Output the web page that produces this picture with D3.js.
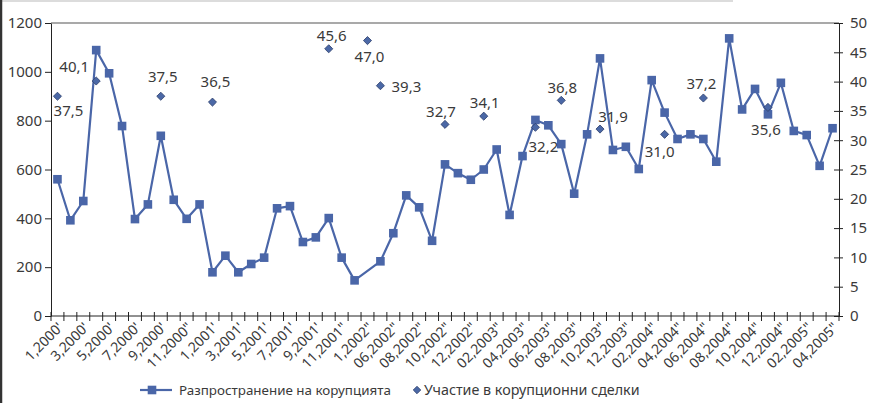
<!DOCTYPE html>
<html>
<head>
	<meta charset="utf-8">
	<script type="text/javascript" src="https://cdn.jsdelivr.net/npm/d3@7"></script>
	<title>Корупция</title>
	<style>
		body { margin: 0; background: #fff; }
		text { font-family: "Noto Sans", "Open Sans", sans-serif; fill: #3a3a3a; }
	</style>
</head>
<body>
<script type="text/javascript">

	/*------ data ------*/

	var categories = [
		"1,2000'", "2,2000'", "3,2000'", "4,2000'", "5,2000'", "6,2000'", "7,2000'", "8,2000'",
		"9,2000'", "10,2000'", "11,2000\"", "12,2000\"", "1,2001'", "2,2001'", "3,2001'", "4,2001'",
		"5,2001'", "6,2001'", "7,2001'", "8,2001'", "9,2001'", "10,2001'", "11,2001\"", "12,2001\"",
		"1,2002\"", "05,2002\"", "06,2002\"", "07,2002\"", "08,2002\"", "09,2002\"", "10,2002\"", "11,2002\"",
		"12,2002\"", "01,2003\"", "02,2003\"", "03,2003\"", "04,2003\"", "05,2003\"", "06,2003\"", "07,2003\"",
		"08,2003\"", "09,2003\"", "10,2003\"", "11,2003\"", "12,2003\"", "01,2004\"", "02,2004\"", "03,2004\"",
		"04,2004\"", "05,2004\"", "06,2004\"", "07,2004\"", "08,2004\"", "09,2004\"", "10,2004\"", "11,2004\"",
		"12,2004\"", "01,2005\"", "02,2005\"", "03,2005\"", "04,2005\""
	];

	// Разпространение на корупцията (left axis)
	var spread = [
		560, 392, 471, 1089, 994, 778, 397, 457, 738, 476,
		398, 457, 179, 247, 179, 213, 239, 441, 450, 303,
		322, 401, 239, 146, null, 224, 339, 494, 445, 308,
		621, 585, 558, 600, 682, 414, 655, 803, 781, 704,
		501, 744, 1055, 680, 693, 602, 966, 833, 725, 744,
		725, 632, 1137, 846, 930, 826, 955, 758, 741, 615,
		769
	];

	// Участие в корупционни сделки (right axis)
	var deals = [
		37.5, null, null, 40.1, null, null, null, null, 37.5, null,
		null, null, 36.5, null, null, null, null, null, null, null,
		null, 45.6, null, null, 47.0, 39.3, null, null, null, null,
		32.7, null, null, 34.1, null, null, null, 32.2, null, 36.8,
		null, null, 31.9, null, null, null, null, 31.0, null, null,
		37.2, null, null, null, null, 35.6, null, null, null, null,
		null
	];

	var leftTicks = [0, 200, 400, 600, 800, 1000, 1200];
	var rightTicks = [0, 5, 10, 15, 20, 25, 30, 35, 40, 45, 50];
	var seriesNames = ["Разпространение на корупцията", "Участие в корупционни сделки"];

	// where each value label sits relative to its diamond
	var labelPos = {
		0: [11, 14], 3: [-22, -14], 8: [2, -20], 12: [3, -20], 21: [3, -13],
		24: [2, 16], 25: [26, 1], 30: [-4, -13], 33: [1, -13], 37: [8, 19],
		39: [1, -13], 42: [13, -12], 47: [-5, 17], 50: [-2, -14], 55: [-2, 22]
	};

	/*------ layout ------*/

	var svgWidth = 870, svgHeight = 403;
	var plotLeft = 51, plotRight = 839, plotTop = 23, plotBottom = 316;
	var lineColor = '#4a66a8';

	var xScale, yLeft, yRight;

	var svg = d3.select('body')
		.append('svg')
		.attr('width', svgWidth)
		.attr('height', svgHeight);

	setScales();
	renderFrame();
	renderAxes();
	renderSeries();
	renderLegend();

	function setScales() {
		xScale = d3.scaleBand()
			.domain(d3.range(categories.length))
			.range([plotLeft, plotRight]);

		yLeft = d3.scaleLinear()
			.domain([0, 1200])
			.range([plotBottom, plotTop]);

		yRight = d3.scaleLinear()
			.domain([0, 50])
			.range([plotBottom, plotTop]);
	}

	function renderFrame() {
		// bits of the page border around the picture
		svg.append('line')
			.attr('x1', 0).attr('x2', 733).attr('y1', 1).attr('y2', 1)
			.attr('stroke', '#dcdcdc').attr('stroke-width', 2);
		svg.append('line')
			.attr('x1', 1).attr('x2', 1).attr('y1', 0).attr('y2', svgHeight)
			.attr('stroke', '#333').attr('stroke-width', 2.5);

		// top edge of the plot area
		svg.append('line')
			.attr('x1', plotLeft).attr('x2', plotRight)
			.attr('y1', plotTop).attr('y2', plotTop)
			.attr('stroke', '#8c8c8c').attr('stroke-width', 1.3);
	}

	function renderAxes() {
		var left = svg.append('g')
			.attr('transform', 'translate(' + plotLeft + ',0)')
			.call(d3.axisLeft(yLeft).tickValues(leftTicks).tickFormat(d3.format('d'))
				.tickSize(6).tickPadding(3).tickSizeOuter(0));

		var right = svg.append('g')
			.attr('transform', 'translate(' + plotRight + ',0)')
			.call(d3.axisRight(yRight).tickValues(rightTicks).tickFormat(d3.format('d'))
				.tickSize(4).tickPadding(7).tickSizeOuter(0));
		right.selectAll('.tick line').attr('x1', -5);

		[left, right].forEach(function (g) {
			g.select('.domain').attr('stroke', '#222');
			g.selectAll('.tick line').attr('stroke', '#222');
			g.selectAll('.tick text')
				.attr('font-size', 15)
				.attr('font-family', '"Noto Sans", sans-serif')
				.attr('fill', '#3a3a3a');
		});

		// category axis: ticks on band edges, labels on every other band
		var bottom = svg.append('g');
		bottom.append('line')
			.attr('x1', plotLeft).attr('x2', plotRight)
			.attr('y1', plotBottom).attr('y2', plotBottom)
			.attr('stroke', '#222');

		var edges = d3.range(categories.length + 1).map(function (i) {
			return plotLeft + i * xScale.step();
		});
		bottom.selectAll('line.tick')
			.data(edges)
			.enter()
			.append('line')
			.attr('class', 'tick')
			.attr('x1', function (d) { return d; })
			.attr('x2', function (d) { return d; })
			.attr('y1', plotBottom - 4)
			.attr('y2', plotBottom + 5)
			.attr('stroke', '#222');

		bottom.selectAll('text')
			.data(categories.filter(function (d, i) { return i % 2 == 0; }))
			.enter()
			.append('text')
			.text(function (d) { return d; })
			.attr('transform', function (d) {
				var i = categories.indexOf(d);
				var cx = xScale(i) + xScale.bandwidth() / 2;
				return 'translate(' + (cx + 3) + ',' + (plotBottom + 9) + ') rotate(-45)';
			})
			.attr('text-anchor', 'end')
			.attr('dy', '0.35em')
			.attr('font-size', 14);
	}

	function renderSeries() {
		var pts = spread.map(function (v, i) { return { i: i, v: v }; })
			.filter(function (d) { return d.v != null; });

		var line = d3.line()
			.x(function (d) { return xScale(d.i) + xScale.bandwidth() / 2; })
			.y(function (d) { return yLeft(d.v); });

		svg.append('path')
			.datum(pts)
			.attr('d', line)
			.attr('fill', 'none')
			.attr('stroke', lineColor)
			.attr('stroke-width', 2.2)
			.attr('stroke-linejoin', 'round');

		svg.selectAll('rect.marker')
			.data(pts)
			.enter()
			.append('rect')
			.attr('class', 'marker')
			.attr('x', function (d) { return xScale(d.i) + xScale.bandwidth() / 2 - 4.3; })
			.attr('y', function (d) { return yLeft(d.v) - 4.3; })
			.attr('width', 8.6)
			.attr('height', 8.6)
			.attr('fill', lineColor);

		var dpts = deals.map(function (v, i) { return { i: i, v: v }; })
			.filter(function (d) { return d.v != null; });

		var diamond = d3.symbol().type(d3.symbolDiamond2).size(42);

		svg.selectAll('path.deal')
			.data(dpts)
			.enter()
			.append('path')
			.attr('class', 'deal')
			.attr('d', diamond)
			.attr('transform', function (d) {
				return 'translate(' + (xScale(d.i) + xScale.bandwidth() / 2) + ',' + yRight(d.v) + ')';
			})
			.attr('fill', '#4b68a6')
			.attr('stroke', '#2d3f6b')
			.attr('stroke-width', 0.8);

		svg.selectAll('text.deal-label')
			.data(dpts)
			.enter()
			.append('text')
			.attr('class', 'deal-label')
			.text(function (d) { return d.v.toFixed(1).replace('.', ','); })
			.attr('x', function (d) {
				var off = labelPos[d.i] || [0, -14];
				return xScale(d.i) + xScale.bandwidth() / 2 + off[0];
			})
			.attr('y', function (d) {
				var off = labelPos[d.i] || [0, -14];
				return yRight(d.v) + off[1];
			})
			.attr('dy', '0.35em')
			.attr('text-anchor', 'middle')
			.attr('font-size', 15);
	}

	function renderLegend() {
		var g = svg.append('g').attr('transform', 'translate(0,390)');

		g.append('line')
			.attr('x1', 140).attr('x2', 172).attr('y1', 0).attr('y2', 0)
			.attr('stroke', lineColor).attr('stroke-width', 2.2);
		g.append('rect')
			.attr('x', 152 - 4.3).attr('y', -4.3)
			.attr('width', 8.6).attr('height', 8.6)
			.attr('fill', lineColor);
		g.append('text')
			.attr('x', 179).attr('dy', '0.35em')
			.attr('font-size', 13.4)
			.text(seriesNames[0]);

		g.append('path')
			.attr('d', d3.symbol().type(d3.symbolDiamond2).size(36))
			.attr('transform', 'translate(417,0)')
			.attr('fill', '#4b68a6')
			.attr('stroke', '#2d3f6b')
			.attr('stroke-width', 0.8);
		g.append('text')
			.attr('x', 424).attr('dy', '0.35em')
			.attr('font-size', 14.3)
			.text(seriesNames[1]);
	}

</script>
</body>
</html>
